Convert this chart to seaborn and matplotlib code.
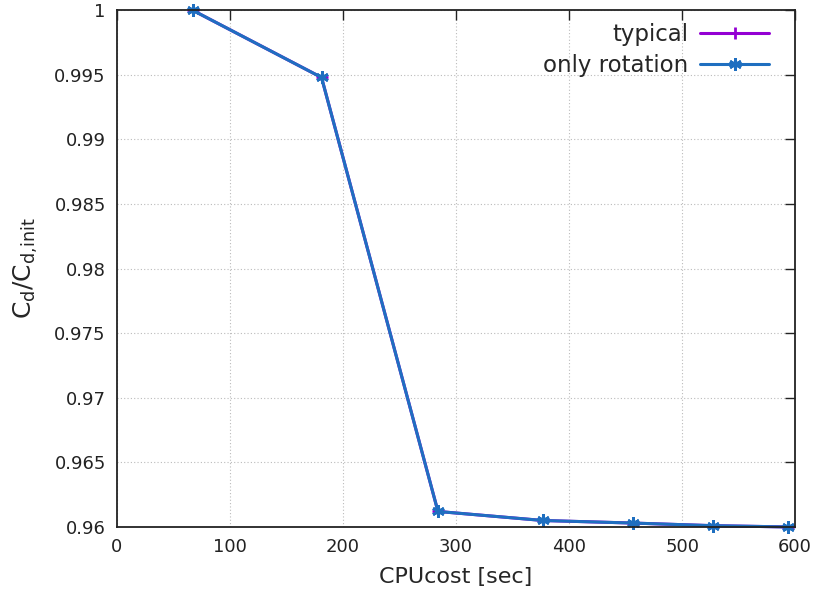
import matplotlib
matplotlib.use("Agg")
import matplotlib.pyplot as plt
from matplotlib.ticker import FuncFormatter, MultipleLocator
import seaborn as sns
import pandas as pd

# CPU cost (s) per optimisation step and normalised drag coefficient
cpu_cost = [67, 181, 284, 377, 457, 527, 594]
cd_typical = [1.0, 0.9948, 0.9612, 0.9605, 0.9603, 0.9601, 0.9600]
cd_rotation = [1.0, 0.9948, 0.9612, 0.9605, 0.9603, 0.9601, 0.9600]

series_names = ["typical", "only rotation"]
series_colors = {"typical": "#9400d3", "only rotation": "#1f6fc0"}
series_markers = {"typical": "+", "only rotation": (6, 2, 0)}

df = pd.concat([
    pd.DataFrame({"cpu": cpu_cost, "cd": cd_typical, "case": series_names[0]}),
    pd.DataFrame({"cpu": cpu_cost, "cd": cd_rotation, "case": series_names[1]}),
])

sns.set_style("white")
plt.rcParams["font.family"] = ["DejaVu Sans"]
plt.rcParams["mathtext.fontset"] = "dejavusans"

fig = plt.figure(figsize=(8.18, 6.05), dpi=100)
ax = fig.add_axes([0.143, 0.129, 0.829, 0.854])

sns.lineplot(
    data=df, x="cpu", y="cd", hue="case", hue_order=series_names,
    palette=series_colors, linewidth=2.2, ax=ax, legend=True,
)
# gnuplot-like point types, drawn in the line colour
for line, name in zip(ax.lines[:2], series_names):
    line.set_marker(series_markers[name])
    line.set_markersize(9)
    line.set_markeredgewidth(2)
    line.set_markeredgecolor(series_colors[name])
    line.set_markerfacecolor(series_colors[name])
    line.set_clip_on(False)

ax.set_xlim(0, 600)
ax.set_ylim(0.96, 1.0)
ax.xaxis.set_major_locator(MultipleLocator(100))
ax.yaxis.set_major_locator(MultipleLocator(0.005))
ax.yaxis.set_major_formatter(FuncFormatter(lambda v, p: f"{v:.3f}".rstrip("0").rstrip(".")))

ax.grid(True, linestyle=(0, (1, 2)), color="#bbbbbb", linewidth=0.8)
ax.tick_params(axis="both", which="both", direction="in", top=True, right=True,
               length=7, width=1, labelsize=13, colors="#222222", pad=8)
for s in ax.spines.values():
    s.set_color("#222222")
    s.set_linewidth(1.3)

ax.set_xlabel("CPUcost [sec]", fontsize=16, labelpad=8)
ax.set_ylabel(r"$\mathrm{C_d/C_{d{,}init}}$", fontsize=18, labelpad=10)

handles, labels = ax.get_legend_handles_labels()
for h, name in zip(handles, labels):
    h.set_marker(series_markers[name])
    h.set_markersize(9)
    h.set_markeredgewidth(2)
    h.set_markeredgecolor(series_colors[name])
    h.set_markerfacecolor(series_colors[name])
ax.legend(handles, labels, loc="upper right", frameon=False, markerfirst=False,
          fontsize=16.5, handlelength=3.0, borderaxespad=0.15, labelspacing=0.35,
          handletextpad=0.5, bbox_to_anchor=(0.98, 1.0))

fig.savefig("out.png", dpi=100)
